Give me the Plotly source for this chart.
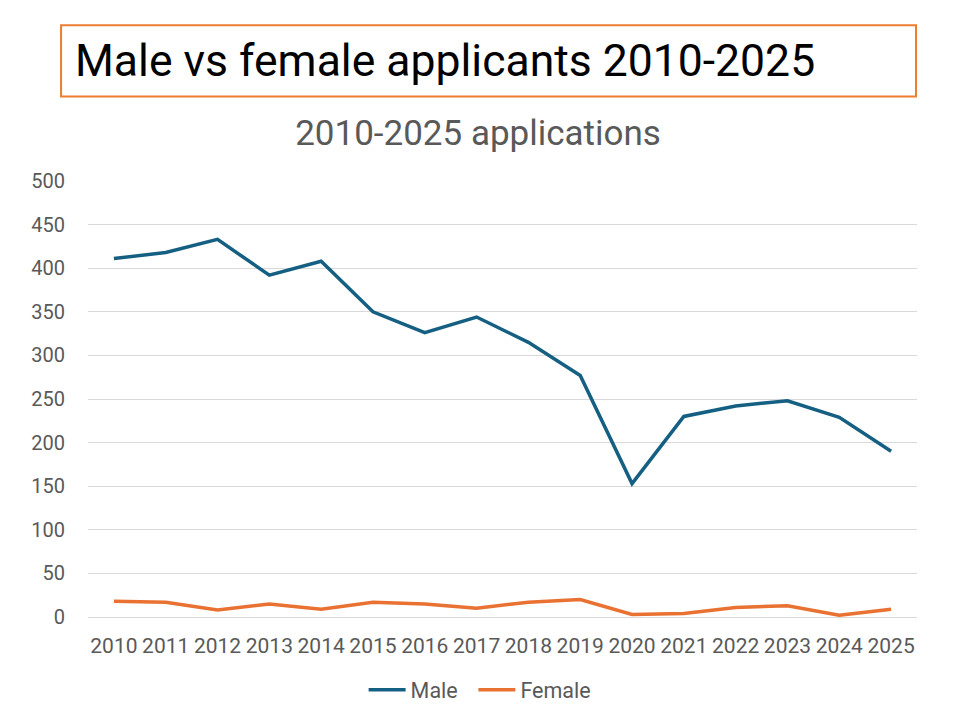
import plotly.graph_objects as go

years = [str(y) for y in range(2010, 2026)]
male = [411, 418, 433, 392, 408, 350, 326, 344, 315, 277, 153, 230, 242, 248, 229, 190]
female = [18, 17, 8, 15, 9, 17, 15, 10, 17, 20, 3, 4, 11, 13, 2, 9]

GREY = "#595959"
FONT = "Roboto, sans-serif"

fig = go.Figure()

fig.add_trace(go.Scatter(
    x=years, y=male, name="Male\u00a0\u00a0", mode="lines",
    line=dict(color="#156082", width=3.5)
))
fig.add_trace(go.Scatter(
    x=years, y=female, name="Female", mode="lines",
    line=dict(color="#e97132", width=3.5)
))

# boxed heading at the top of the slide
fig.add_shape(
    type="rect", xref="paper", yref="paper",
    x0=-0.0325, x1=0.9988, y0=1.1936, y1=1.3575,
    line=dict(color="#ed7d31", width=2), fillcolor="white"
)
fig.add_annotation(
    text="Male vs female applicants 2010-2025",
    xref="paper", yref="paper", x=-0.0175, y=1.275,
    xanchor="left", yanchor="middle", showarrow=False,
    font=dict(size=44.5, color="black", family=FONT)
)

fig.update_layout(
    width=966,
    height=715,
    plot_bgcolor="white",
    paper_bgcolor="white",
    margin=dict(l=80, r=57, t=173, b=106),
    font=dict(family=FONT, size=20, color=GREY),
    title=dict(
        text="2010-2025 applications",
        x=0.4866, xanchor="center", y=0.825, yanchor="middle",
        font=dict(size=35, color=GREY, family=FONT)
    ),
    xaxis=dict(
        type="category",
        range=[-0.5, 15.5],
        showgrid=False,
        showline=False,
        ticks="",
        ticklabelstandoff=14,
        tickfont=dict(size=21, color=GREY),
    ),
    yaxis=dict(
        range=[0, 500],
        dtick=50,
        showgrid=True,
        gridcolor="#d9d9d9",
        gridwidth=1,
        zeroline=True,
        zerolinecolor="#d9d9d9",
        zerolinewidth=1,
        showline=False,
        ticks="",
        ticklabelstandoff=22,
        tickfont=dict(size=20, color=GREY),
    ),
    legend=dict(
        orientation="h",
        x=0.473, xanchor="center",
        y=-0.167, yanchor="middle",
        font=dict(size=21.5, color=GREY),
        itemwidth=37,
    ),
)

fig.write_html("out.html")
